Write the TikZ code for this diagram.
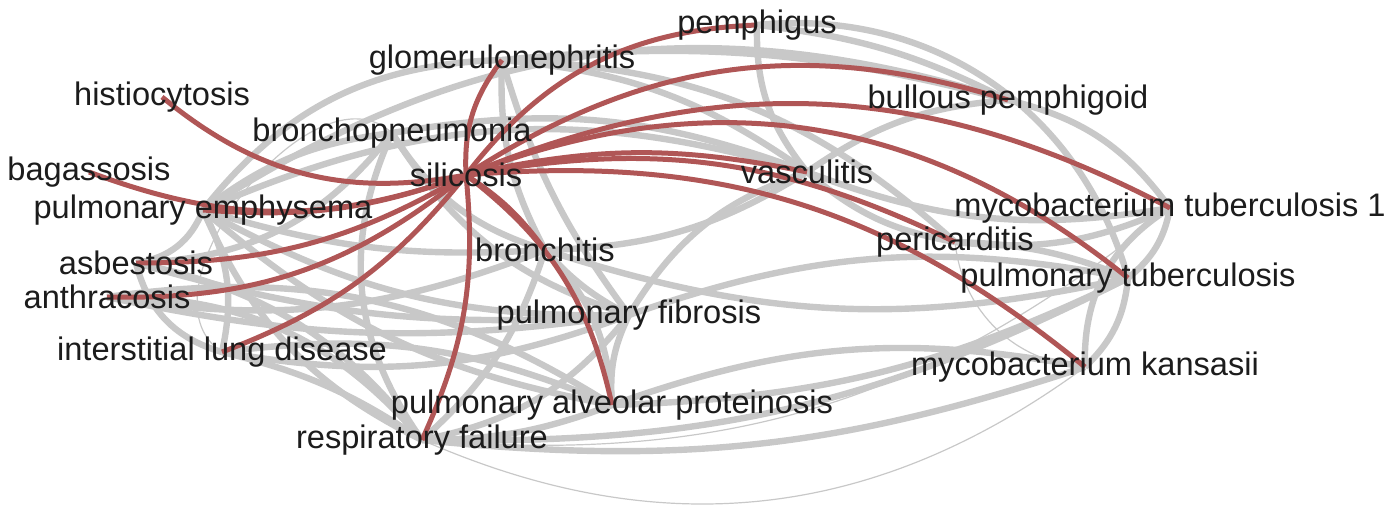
\documentclass[tikz,border=0pt]{standalone}
\usepackage{fontspec}
\setmainfont{Liberation Sans}
\usetikzlibrary{backgrounds}
\definecolor{edgegrey}{RGB}{200,200,200}
\definecolor{edgered}{RGB}{176,86,86}
\definecolor{labelink}{RGB}{28,28,28}
\begin{document}
\begin{tikzpicture}[line cap=round, line join=round, font=\fontsize{16.3}{19}\selectfont, x=0.5pt, y=-0.5pt]
	\tikzset{disease/.style={text=labelink, inner sep=0pt},
		greyedge/.style={draw=edgegrey, line width=3.2pt},
		thinedge/.style={draw=edgegrey, line width=0.6pt},
		rededge/.style={draw=edgered, line width=2.5pt}}
	\useasboundingbox (0,0) rectangle (1396,513);
	\node[disease] (pem) at (757,25) {pemphigus};
	\node[disease] (glo) at (502,60) {glomerulonephritis};
	\node[disease] (his) at (162,97) {histiocytosis};
	\node[disease] (bul) at (1008,100) {bullous pemphigoid};
	\node[disease] (bro) at (392,133) {bronchopneumonia};
	\node[disease] (bag) at (89,172) {bagassosis};
	\node[disease] (sil) at (466,175) {silicosis};
	\node[disease] (vas) at (807,172) {vasculitis};
	\node[disease] (emp) at (203,210) {pulmonary emphysema};
	\node[disease] (myc) at (1170,208) {mycobacterium tuberculosis 1};
	\node[disease] (per) at (955,242) {pericarditis};
	\node[disease] (bch) at (545,250) {bronchitis};
	\node[disease] (asb) at (136,263) {asbestosis};
	\node[disease] (ptb) at (1128,278) {pulmonary tuberculosis};
	\node[disease] (ant) at (107,297) {anthracosis};
	\node[disease] (fib) at (629,315) {pulmonary fibrosis};
	\node[disease] (ild) at (222,352) {interstitial lung disease};
	\node[disease] (kan) at (1085,367) {mycobacterium kansasii};
	\node[disease] (pap) at (612,405) {pulmonary alveolar proteinosis};
	\node[disease] (res) at (422,440) {respiratory failure};
	\begin{pgfonlayer}{background}
		\foreach \a/\b/\c in {emp/glo/25, emp/bro/15, emp/vas/20, emp/bul/25, emp/fib/-15, emp/bch/-10, emp/ild/20, emp/res/-20, emp/asb/30, emp/pap/-15,
			ant/bch/-15, ant/fib/-10, ant/res/25, ant/pap/20, asb/fib/-10, asb/res/20, asb/ild/-30, asb/bro/-25,
			ild/fib/-15, ild/pap/15, ild/res/10, bro/bch/-20, bro/res/-30, bro/vas/15, bro/fib/-20,
			glo/vas/15, glo/bul/10, glo/per/20, glo/fib/-10, glo/bch/-15,
			pem/bul/10, pem/vas/-20, pem/ptb/40, bul/vas/-15, bul/myc/20,
			vas/per/-15, vas/fib/-20, vas/myc/-15, vas/bch/15,
			per/ptb/10, per/myc/-15, myc/ptb/20, myc/kan/-30, ptb/kan/20,
			fib/ptb/15, fib/pap/-15, fib/bch/10, fib/res/20, bch/pap/20, bch/res/15, bch/ptb/-15,
			pap/kan/15, pap/ptb/-12, res/kan/-12, res/ptb/-14, res/pap/-10}
			\draw[greyedge] (\a.center) to[bend left=\c] (\b.center);
		\foreach \a/\b/\c in {bro/ild/-95, res/kan/-30, res/myc/-22, per/kan/-40}
			\draw[thinedge] (\a.center) to[bend left=\c] (\b.center);
		\foreach \b/\c in {his/25, bag/20, emp/12, asb/15, ant/20, ild/15, res/15, pap/20, bch/10,
			pem/25, glo/20, bul/25, vas/12, per/18, myc/25, ptb/30, kan/22}
			\draw[rededge] (sil.center) to[bend left=\c] (\b.center);
	\end{pgfonlayer}
\end{tikzpicture}
\end{document}
